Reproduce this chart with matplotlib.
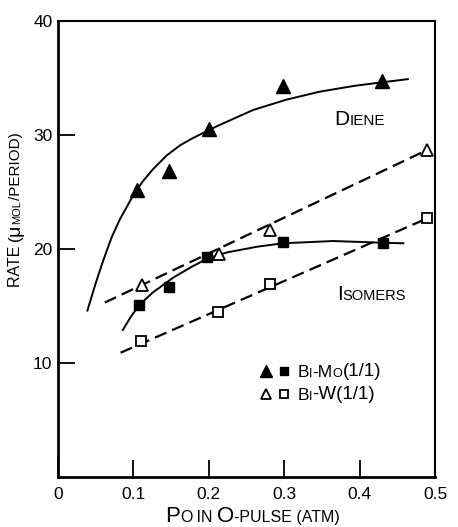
import matplotlib
matplotlib.use("Agg")
from matplotlib import pyplot as plt
from matplotlib.legend_handler import HandlerTuple

plt.rcParams['font.family'] = ['Liberation Sans', 'DejaVu Sans']
plt.rcParams['lines.scale_dashes'] = False

# measured points, Bi-Mo(1/1)
p_mo_diene = [0.105, 0.147, 0.200, 0.298, 0.430]
rate_mo_diene = [25.2, 26.8, 30.5, 34.3, 34.7]
p_mo_iso = [0.108, 0.147, 0.198, 0.298, 0.431]
rate_mo_iso = [15.1, 16.7, 19.3, 20.6, 20.5]

# measured points, Bi-W(1/1)
p_w_diene = [0.111, 0.214, 0.281, 0.490]
rate_w_diene = [16.8, 19.6, 21.7, 28.7]
p_w_iso = [0.110, 0.212, 0.281, 0.490]
rate_w_iso = [11.9, 14.5, 16.9, 22.7]

# hand-drawn trend curves (solid for Bi-Mo)
mo_diene_curve_x = [0.039, 0.050, 0.060, 0.071, 0.082, 0.098, 0.112, 0.126, 0.144, 0.162, 0.178,
                    0.193, 0.215, 0.259, 0.303, 0.347, 0.392, 0.427, 0.464]
mo_diene_curve_y = [14.6, 17.0, 19.0, 21.0, 22.6, 24.5, 25.9, 27.0, 28.2, 29.1, 29.7,
                    30.2, 30.9, 32.2, 33.1, 33.8, 34.3, 34.6, 34.9]
mo_iso_curve_x = [0.086, 0.097, 0.108, 0.126, 0.153, 0.179, 0.198, 0.224, 0.264, 0.298, 0.365, 0.431, 0.458]
mo_iso_curve_y = [12.9, 14.1, 15.1, 16.2, 17.5, 18.5, 19.15, 19.7, 20.2, 20.5, 20.7, 20.55, 20.5]

# straight dashed fits for Bi-W
w_diene_line_x = [0.062, 0.490]
w_diene_line_y = [15.3, 28.7]
w_iso_line_x = [0.083, 0.490]
w_iso_line_y = [10.9, 22.7]

xticks = [0, 0.1, 0.2, 0.3, 0.4, 0.5]
xticklabels = ['0', '0.1', '0.2', '0.3', '0.4', '0.5']
yticks = [10, 20, 30, 40]


def smallcaps(ax, x, y, parts, transform, rotation=0):
    # chain text pieces of different sizes on one baseline, imitating small capitals
    if rotation == 0:
        prev = ax.text(x, y, parts[0][0], fontsize=parts[0][1], transform=transform,
                       ha='left', va='baseline')
        for s, size in parts[1:]:
            prev = ax.annotate(s, xy=(1, y), xycoords=(prev, transform), fontsize=size,
                               ha='left', va='baseline')
    else:
        prev = ax.text(x, y, parts[0][0], fontsize=parts[0][1], transform=transform,
                       rotation=90, rotation_mode='anchor', ha='left', va='baseline')
        for s, size in parts[1:]:
            prev = ax.annotate(s, xy=(x, 1), xycoords=(transform, prev), fontsize=size,
                               rotation=90, rotation_mode='anchor', ha='left', va='baseline')
    return prev


fig = plt.figure(figsize=(4.58, 5.27), dpi=100)
ax = fig.add_axes([58 / 458, 50 / 527, 377 / 458, 456 / 527])

ax.plot(mo_diene_curve_x, mo_diene_curve_y, color='black', lw=1.4)
ax.plot(mo_iso_curve_x, mo_iso_curve_y, color='black', lw=1.4)
ax.plot(w_diene_line_x, w_diene_line_y, color='black', lw=1.6, dashes=(9, 4.5))
ax.plot(w_iso_line_x, w_iso_line_y, color='black', lw=1.6, dashes=(9, 4.5))

tri_f, = ax.plot(p_mo_diene, rate_mo_diene, '^', color='black', ms=10, ls='none', zorder=4)
sq_f, = ax.plot(p_mo_iso, rate_mo_iso, 's', color='black', ms=7, ls='none', zorder=4)
tri_o, = ax.plot(p_w_diene, rate_w_diene, '^', mfc='white', mec='black', mew=1.3, ms=9, ls='none', zorder=4)
sq_o, = ax.plot(p_w_iso, rate_w_iso, 's', mfc='white', mec='black', mew=1.3, ms=6.5, ls='none', zorder=4)

ax.set_xlim(0, 0.5)
ax.set_ylim(0, 40)
ax.set_xticks(xticks)
ax.set_xticklabels(xticklabels)
ax.set_yticks(yticks)
ax.tick_params(axis='both', direction='in', length=12, width=1.3, labelsize=12.5)
ax.tick_params(axis='x', pad=7)
ax.tick_params(axis='y', pad=4)
for side in ['left', 'bottom']:
    ax.spines[side].set_linewidth(2.0)
for side in ['top', 'right']:
    ax.spines[side].set_linewidth(1.5)

# curve labels
smallcaps(ax, 0.367, 30.9, [('D', 15), ('IENE', 11)], ax.transData)
smallcaps(ax, 0.370, 15.5, [('I', 15), ('SOMERS', 10.5)], ax.transData)

# legend, first letter kept in the legend and the rest chained on
leg = ax.legend([(tri_f, sq_f), (tri_o, sq_o)], ['B', 'B'],
                handler_map={tuple: HandlerTuple(ndivide=None)},
                loc='upper left', bbox_to_anchor=(0.53, 0.245), frameon=False,
                fontsize=12.5, handlelength=2.0, handletextpad=0.3,
                labelspacing=0.45, borderpad=0, borderaxespad=0, markerscale=0.85)
t1, t2 = leg.get_texts()
prev = ax.annotate('I', xy=(1, 0), xycoords=t1, fontsize=9, va='bottom', zorder=6)
prev = ax.annotate('-M', xy=(1, 0), xycoords=prev, fontsize=12.5, va='bottom', zorder=6)
prev = ax.annotate('O', xy=(1, 0), xycoords=prev, fontsize=9, va='bottom', zorder=6)
ax.annotate('(1/1)', xy=(1, 0), xycoords=prev, fontsize=13.5, va='bottom', zorder=6)
prev = ax.annotate('I', xy=(1, 0), xycoords=t2, fontsize=9, va='bottom', zorder=6)
ax.annotate('-W(1/1)', xy=(1, 0), xycoords=prev, fontsize=13.5, va='bottom', zorder=6)

# axis titles
smallcaps(ax, 165 / 458, (527 - 522) / 527,
          [('P', 16), ('O', 11.5), (' IN ', 11.5), ('O', 16), ('-PULSE (ATM)', 11.5)],
          fig.transFigure)
smallcaps(ax, 20 / 458, (527 - 287) / 527,
          [('RATE ', 11.5), ('(', 12), ('\u03bc', 14), ('MOL', 8), ('/PERIOD)', 11)],
          fig.transFigure, rotation=90)

fig.savefig('out.png', dpi=100)
